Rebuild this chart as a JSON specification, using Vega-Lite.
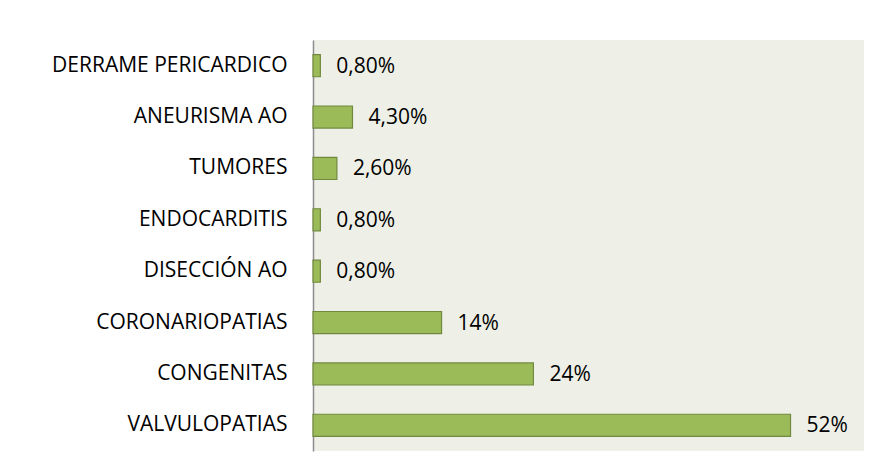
{
  "$schema": "https://vega.github.io/schema/vega-lite/v6.json",
  "width": 551,
  "height": 411,
  "autosize": {"type": "none"},
  "padding": {"left": 313, "top": 40, "right": 16, "bottom": 21},
  "background": "#ffffff",
  "config": {
    "view": {"fill": "#eef0e7", "stroke": null},
    "font": "Open Sans"
  },
  "data": {
    "values": [
      {"cause": "DERRAME PERICARDICO", "value": 0.008, "label": "0,80%"},
      {"cause": "ANEURISMA AO", "value": 0.043, "label": "4,30%"},
      {"cause": "TUMORES", "value": 0.026, "label": "2,60%"},
      {"cause": "ENDOCARDITIS", "value": 0.008, "label": "0,80%"},
      {"cause": "DISECCIÓN AO ", "value": 0.008, "label": "0,80%"},
      {"cause": "CORONARIOPATIAS", "value": 0.14, "label": "14%"},
      {"cause": "CONGENITAS", "value": 0.24, "label": "24%"},
      {"cause": "VALVULOPATIAS", "value": 0.52, "label": "52%"}
    ]
  },
  "encoding": {
    "y": {
      "field": "cause",
      "type": "nominal",
      "sort": null,
      "scale": {"paddingInner": 0.57, "paddingOuter": 0.285},
      "axis": {
        "title": null,
        "ticks": false,
        "domainColor": "#8c8c8c",
        "domainWidth": 1.5,
        "labelFontSize": 21,
        "labelColor": "#000000",
        "labelPadding": 26,
        "labelLimit": 0,
        "labelFont": "Open Sans"
      }
    },
    "x": {
      "field": "value",
      "type": "quantitative",
      "scale": {"domain": [0, 0.6]},
      "axis": null
    }
  },
  "layer": [
    {
      "mark": {"type": "bar", "fill": "#9bbb59", "stroke": "#71893f", "strokeWidth": 1.2}
    },
    {
      "mark": {"type": "text", "align": "left", "baseline": "middle", "dx": 16, "dy": 1, "fontSize": 21, "color": "#000000", "font": "Open Sans"},
      "encoding": {"text": {"field": "label"}}
    }
  ]
}
